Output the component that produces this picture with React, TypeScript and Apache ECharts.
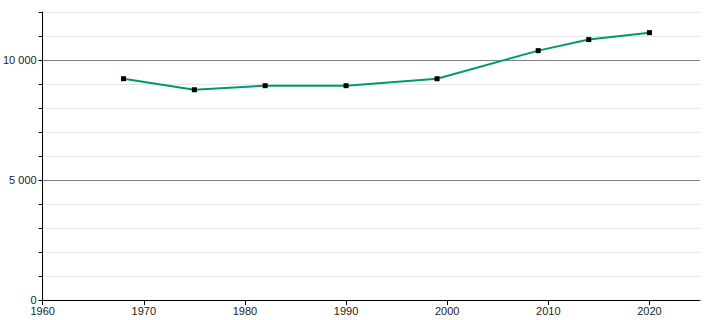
import React, { useEffect, useRef } from "react";
import * as echarts from "echarts";

const years = [1968, 1975, 1982, 1990, 1999, 2009, 2014, 2020];
const population = [9220, 8760, 8930, 8930, 9220, 10390, 10850, 11140];
const xTickLabels = [1960, 1970, 1980, 1990, 2000, 2010, 2020];
const yTickLabels = [0, 5000, 10000];

export default function App() {
  const ref = useRef<HTMLDivElement>(null);
  useEffect(() => {
    if (!ref.current) return;
    const chart = echarts.init(ref.current, null, { renderer: "svg" });
    chart.setOption({
      animation: false,
      grid: { left: 42, right: 10, top: 12, bottom: 20, containLabel: false },
      xAxis: {
        type: "value",
        min: 1960,
        max: 2025,
        interval: 10,
        axisLine: { show: true, onZero: false, lineStyle: { color: "#000", width: 1 } },
        axisTick: { show: true, length: 5, customValues: xTickLabels, lineStyle: { color: "#000" } },
        axisLabel: {
          customValues: xTickLabels,
          color: "#222",
          fontSize: 11,
          fontFamily: "Liberation Sans, Arial, sans-serif",
          margin: 5,
          formatter: (v: number) => String(v),
        },
        splitLine: { show: false },
      },
      yAxis: {
        type: "value",
        min: 0,
        max: 12000,
        interval: 1000,
        axisLine: { show: true, lineStyle: { color: "#000", width: 1 } },
        axisTick: { show: true, length: 4, lineStyle: { color: "#000" } },
        axisLabel: {
          customValues: yTickLabels,
          color: "#222",
          fontSize: 11,
          fontFamily: "Liberation Sans, Arial, sans-serif",
          margin: 6,
          formatter: (v: number) => String(v).replace(/\B(?=(\d{3})+(?!\d))/g, " "),
        },
        splitLine: {
          show: true,
          lineStyle: {
            color: ["#808080", "#e6e6e6", "#e6e6e6", "#e6e6e6", "#e6e6e6"],
            width: 1,
          },
        },
      },
      series: [
        {
          type: "line",
          data: years.map((y, i) => [y, population[i]]),
          symbol: "rect",
          symbolSize: 5,
          showAllSymbol: true,
          itemStyle: { color: "#000" },
          lineStyle: { color: "#00996d", width: 2 },
          z: 3,
        },
      ],
    });
    return () => chart.dispose();
  }, []);
  return (
    <div
      ref={ref}
      style={{ position: "fixed", left: 0, top: 0, width: 710, height: 320, background: "#fff" }}
    />
  );
}
